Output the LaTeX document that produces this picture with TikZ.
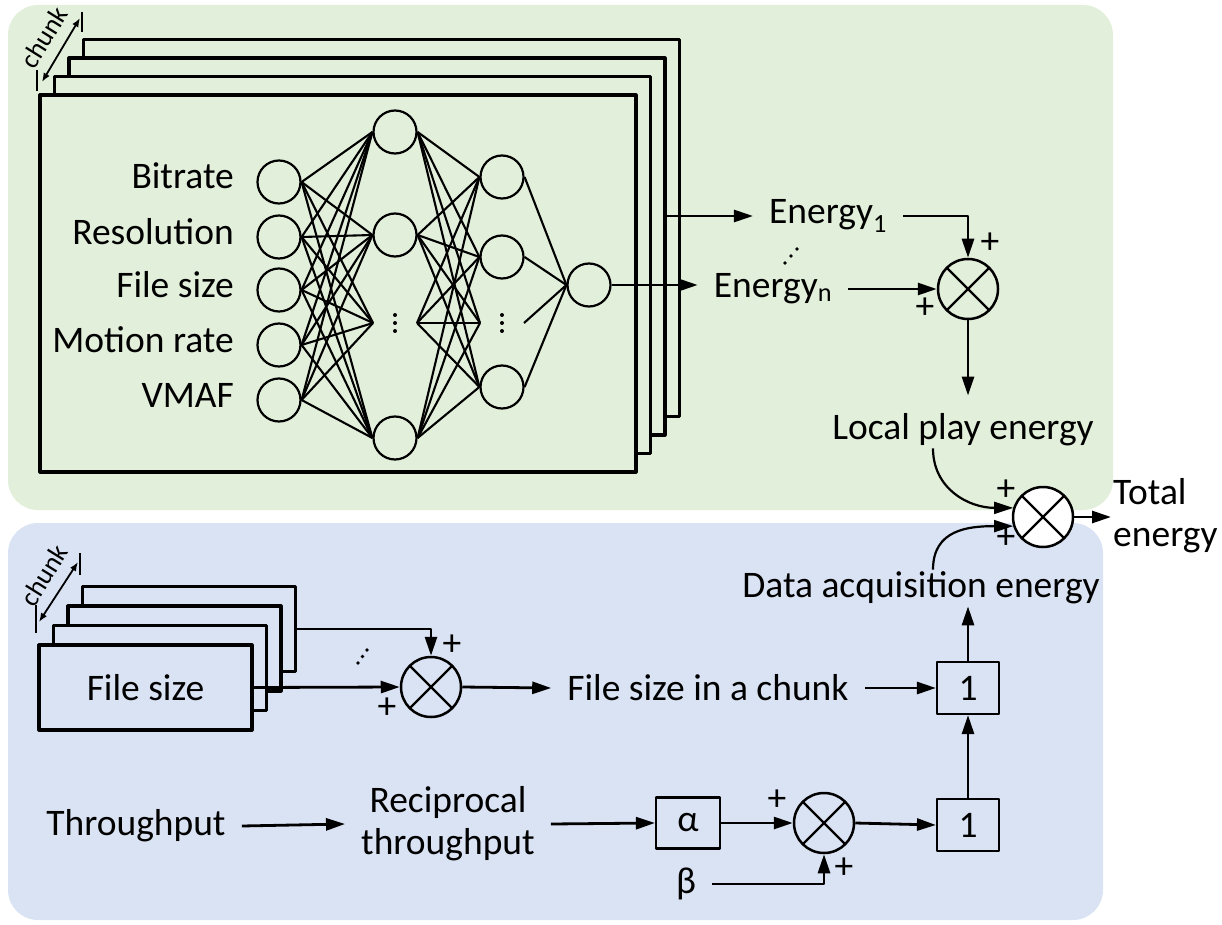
\documentclass[tikz,border=0pt]{standalone}
\usepackage{fontspec}
\setmainfont{Carlito}
\usetikzlibrary{arrows.meta,positioning,calc}
\definecolor{localgreen}{HTML}{E2EFDA}
\definecolor{fetchblue}{HTML}{DAE3F3}

\begin{document}
\begin{tikzpicture}[x=1pt,y=-1pt,line join=round,>={Triangle[length=19pt,width=12pt]},font=\fontsize{37.5}{42}\selectfont]
    \tikzset{lbl/.style={inner xsep=16pt,inner ysep=2pt},
        neuron/.style={circle,draw,line width=2.2pt,minimum size=43pt,inner sep=0pt},
        sumnode/.style={circle,draw,line width=2.5pt,minimum size=60pt,inner sep=0pt,
            path picture={\draw[line width=2.2pt] (path picture bounding box.south west)--(path picture bounding box.north east) (path picture bounding box.north west)--(path picture bounding box.south east);}},
        gain/.style={draw,line width=2.2pt,minimum width=62pt,minimum height=52pt,inner sep=0pt},
        layer/.style={draw,line width=3.2pt,fill=localgreen,minimum width=596pt,minimum height=377pt},
        fsbox/.style={draw,line width=3.2pt,fill=fetchblue,minimum width=213pt,minimum height=85pt},
        arr/.style={->,line width=2.8pt},
        plus/.style={inner sep=0pt},
        chunkarr/.style={{Latex[length=9pt,width=7pt]}-{Latex[length=9pt,width=7pt]},line width=1.8pt},
        chunklbl/.style={rotate=58,inner sep=0pt,font=\fontsize{27}{30}\selectfont}}
    \useasboundingbox (0,0) rectangle (1222,925);
    % backgrounds
    \fill[localgreen,rounded corners=30pt] (8,5) rectangle (1113,510);
    \fill[fetchblue,rounded corners=30pt] (8,523) rectangle (1103,920);
    % stacked frames, one per chunk
    \foreach \k in {3,2,1,0}
    \node[layer] (layer\k) at ({338+14.5*\k},{283.5-18.5*\k}) {};
    \coordinate (ca) at (42,82);
    \coordinate (cb) at (80,18);
    \draw[chunkarr] (ca) -- (cb);
    \node[chunklbl] (chunktop) at (44,37) {chunk};
    \draw[line width=1.8pt] (37,70)--(37,91) (82,12)--(82,32);
    % network
    \foreach \i/\y/\t in {1/182/Bitrate,2/237/Resolution,3/290/File size,4/345/Motion rate,5/400/VMAF}{
        \node[neuron] (in\i) at (279,\y) {};
        \node[anchor=base east,inner sep=0pt] (lab\i) at (234,{\y+7}) {\t};
    }
    \node[neuron] (h1a) at (395,132) {};
    \node[neuron] (h1b) at (395,235) {};
    \node[neuron] (h1c) at (395,438) {};
    \coordinate (h1l) at (373,323);
    \coordinate (h1r) at (417,323);
    \node[neuron] (h2a) at (502,177) {};
    \node[neuron] (h2b) at (502,257) {};
    \node[neuron] (h2c) at (502,387) {};
    \coordinate (h2l) at (480,323);
    \coordinate (h2r) at (524,323);
    \node[neuron] (outn) at (589,285) {};
    \foreach \i in {1,...,5}
    \foreach \h in {h1a.west,h1b.west,h1l,h1c.west}
    \draw[line width=2.1pt] (in\i.east) -- (\h);
    \foreach \a in {h1a.east,h1b.east,h1r,h1c.east}
    \foreach \b in {h2a.west,h2b.west,h2l,h2c.west}
    \draw[line width=2.1pt] (\a) -- (\b);
    \foreach \a in {h2a.east,h2b.east,h2r,h2c.east}
    \draw[line width=2.1pt] (\a) -- (outn.west);
    \foreach \x in {395,502}
    \foreach \d in {-8,0,8}
    \fill (\x,{323+\d}) circle (2);
    % local play energy
    \node[lbl] (en) at (773,289) {Energy\textsubscript{n}};
    \node[lbl] (e1) at (828,216) {Energy\textsubscript{1}};
    \coordinate (e1s) at (667,216);
    \draw[arr] (outn.east) -- (outn.east -| en.west);
    \draw[arr] (e1s) -- (e1.west);
    \foreach \d in {0,1,2}
    \fill ({785+6*\d},{263-7*\d}) circle (1.8);
    \node[sumnode] (s1) at (968,289) {};
    \draw[arr] (e1.east) -| (s1.north);
    \draw[arr] (en.east) -- (s1.west);
    \node[plus] (p1) at (990,243) {+};
    \node[plus] (p2) at (925,308) {+};
    \node[lbl] (lp) at (963,430) {Local play energy};
    \draw[arr,shorten >=16pt] (s1.south) -- (s1.south |- lp.north);
    % total
    \node[sumnode,fill=white] (tot) at (1043,517) {};
    \node[lbl] (da) at (921,588) {Data acquisition energy};
    \draw[arr,line width=2.2pt] ([xshift=-30pt]lp.south) .. controls +(0,40) and +(-45,0) .. (tot.163);
    \draw[arr,line width=2.2pt] ([xshift=12pt]da.north) .. controls +(0,-40) and +(-45,0) .. (tot.197);
    \node[plus] (p3) at (1006,490) {+};
    \node[plus] (p4) at (1006,538) {+};
    \node[anchor=west,align=left,inner sep=2pt] (te) at (1111,516) {Total\\energy};
    \draw[arr] (tot.east) -- (tot.east -| te.west);
    % data acquisition energy
    \foreach \k in {3,2,1}
    \node[fsbox] (fs\k) at ({145.5+14.5*\k},{687.5-19.5*\k}) {};
    \node[fsbox] (fs0) at (145.5,687.5) {File size};
    \coordinate (cc) at (39,622);
    \coordinate (cd) at (78,562);
    \draw[chunkarr] (cc) -- (cd);
    \node[chunklbl] (chunkbot) at (44,575) {chunk};
    \draw[line width=1.8pt] (36,605)--(36,633) (80,553)--(80,575);
    \node[sumnode] (s2) at (431,687) {};
    \draw[arr] (fs3.east) -| (s2.north);
    \draw[arr] (fs0.east) -- (s2.west);
    \foreach \d in {0,1,2}
    \fill ({358+4.5*\d},{663-6.5*\d}) circle (1.8);
    \node[plus] (p5) at (452,645) {+};
    \node[plus] (p6) at (387,708) {+};
    \node[lbl] (fc) at (708,688) {File size in a chunk};
    \node[gain] (b1) at (968,688) {1};
    \node[gain] (b2) at (968,825) {1};
    \draw[arr] (s2.east) -- (fc.west);
    \draw[arr] (fc.east) -- (b1.west);
    \draw[arr] (b1.north) -- (b1.north |- da.south);
    \draw[arr] (b2.north) -- (b1.south);
    \node[lbl] (tp) at (136,826) {Throughput};
    \node[lbl,align=center] (rt) at (448,824) {Reciprocal\\throughput};
    \draw[arr] (tp.east) -- (rt.west);
    \node[gain,minimum width=64pt,minimum height=51pt] (ab) at (688,823) {α};
    \node[sumnode] (s3) at (824,823) {};
    \draw[arr] (rt.east) -- (ab.west);
    \draw[arr] (ab.east) -- (s3.west);
    \draw[arr] (s3.east) -- (b2.west);
    \node[lbl] (bt) at (686,884) {β};
    \draw[arr] (bt.east) -| (s3.south);
    \node[plus] (p7) at (777,800) {+};
    \node[plus] (p8) at (844,868) {+};
\end{tikzpicture}
\end{document}
